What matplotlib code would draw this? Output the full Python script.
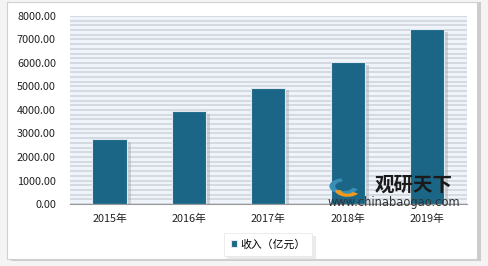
import matplotlib
matplotlib.use('Agg')
import matplotlib.pyplot as plt
from matplotlib.patches import Rectangle, Wedge
import numpy as np

plt.rcParams['font.family'] = ['Noto Sans CJK SC', 'DejaVu Sans']

years = ['2015年', '2016年', '2017年', '2018年', '2019年']
income = [2750, 3950, 4950, 6050, 7450]
legend_label = '收入（亿元）'
yticks = [0, 1000, 2000, 3000, 4000, 5000, 6000, 7000, 8000]

bar_color = '#1b6687'

fig = plt.figure(figsize=(4.88, 2.66), dpi=100)
fig.patch.set_facecolor('#f4f4f4')

# outer card with shadow
fig.add_artist(Rectangle((0.022, 0.018), 0.963, 0.975, transform=fig.transFigure,
                         facecolor='#cccccc', edgecolor='none', zorder=-3))
fig.add_artist(Rectangle((0.014, 0.028), 0.963, 0.965, transform=fig.transFigure,
                         facecolor='white', edgecolor='#d0d0d0', linewidth=0.8, zorder=-2))

ax = fig.add_axes([0.143, 0.233, 0.814, 0.707])
ax.set_facecolor('#eef4f9')
ax.set_ylim(0, 8000)
x = np.arange(len(years))
ax.set_xlim(-0.5, len(years) - 0.5)

# striped background
for yv in np.arange(0, 8001, 200):
    ax.axhline(yv, color='#d2d8de', linewidth=1.3, zorder=0)

# shadows and bars
ax.bar(x + 0.05, income, width=0.43, bottom=-120, color='#a0a0a0', alpha=0.4, zorder=1)
ax.bar(x, income, width=0.43, color=bar_color, edgecolor='#dfe8ee', linewidth=0.8,
       zorder=2, label=legend_label)

ax.set_yticks(yticks)
ax.set_yticklabels(['%.2f' % v for v in yticks])
ax.set_xticks(x)
ax.set_xticklabels(years)
ax.tick_params(axis='both', length=0, labelsize=7.8, colors='#222222')
ax.tick_params(axis='x', pad=7)
ax.tick_params(axis='y', pad=10)
for s in ['top', 'right', 'left']:
    ax.spines[s].set_visible(False)
ax.spines['bottom'].set_color('#999999')
ax.spines['bottom'].set_linewidth(0.8)

leg = ax.legend(loc='center', bbox_to_anchor=(0.5, -0.215), ncol=1, fontsize=7.8,
                frameon=True, handlelength=0.6, handleheight=0.6, handletextpad=0.3,
                borderpad=0.6, fancybox=False,
                shadow={'color': '#d8d8d8', 'alpha': 0.5})
leg.get_frame().set_edgecolor('#e6e6e6')
leg.get_frame().set_linewidth(0.5)

# watermark logo
fig.add_artist(Wedge((0.705, 0.30), 0.03, 100, 340, width=0.012, transform=fig.transFigure,
                     facecolor='#3a8fb7', edgecolor='none', zorder=5))
fig.add_artist(Wedge((0.712, 0.285), 0.025, 180, 330, width=0.012, transform=fig.transFigure,
                     facecolor='#f39a1e', edgecolor='none', zorder=5))
fig.text(0.847, 0.305, '观研天下', fontsize=14, fontweight='bold', color='#1a1a1a',
         ha='center', va='center', zorder=5)
fig.text(0.807, 0.24, 'www.chinabaogao.com', fontsize=8.3, color='#333333',
         ha='center', va='center', family='DejaVu Sans', zorder=5)

fig.savefig('out.png', dpi=100)
